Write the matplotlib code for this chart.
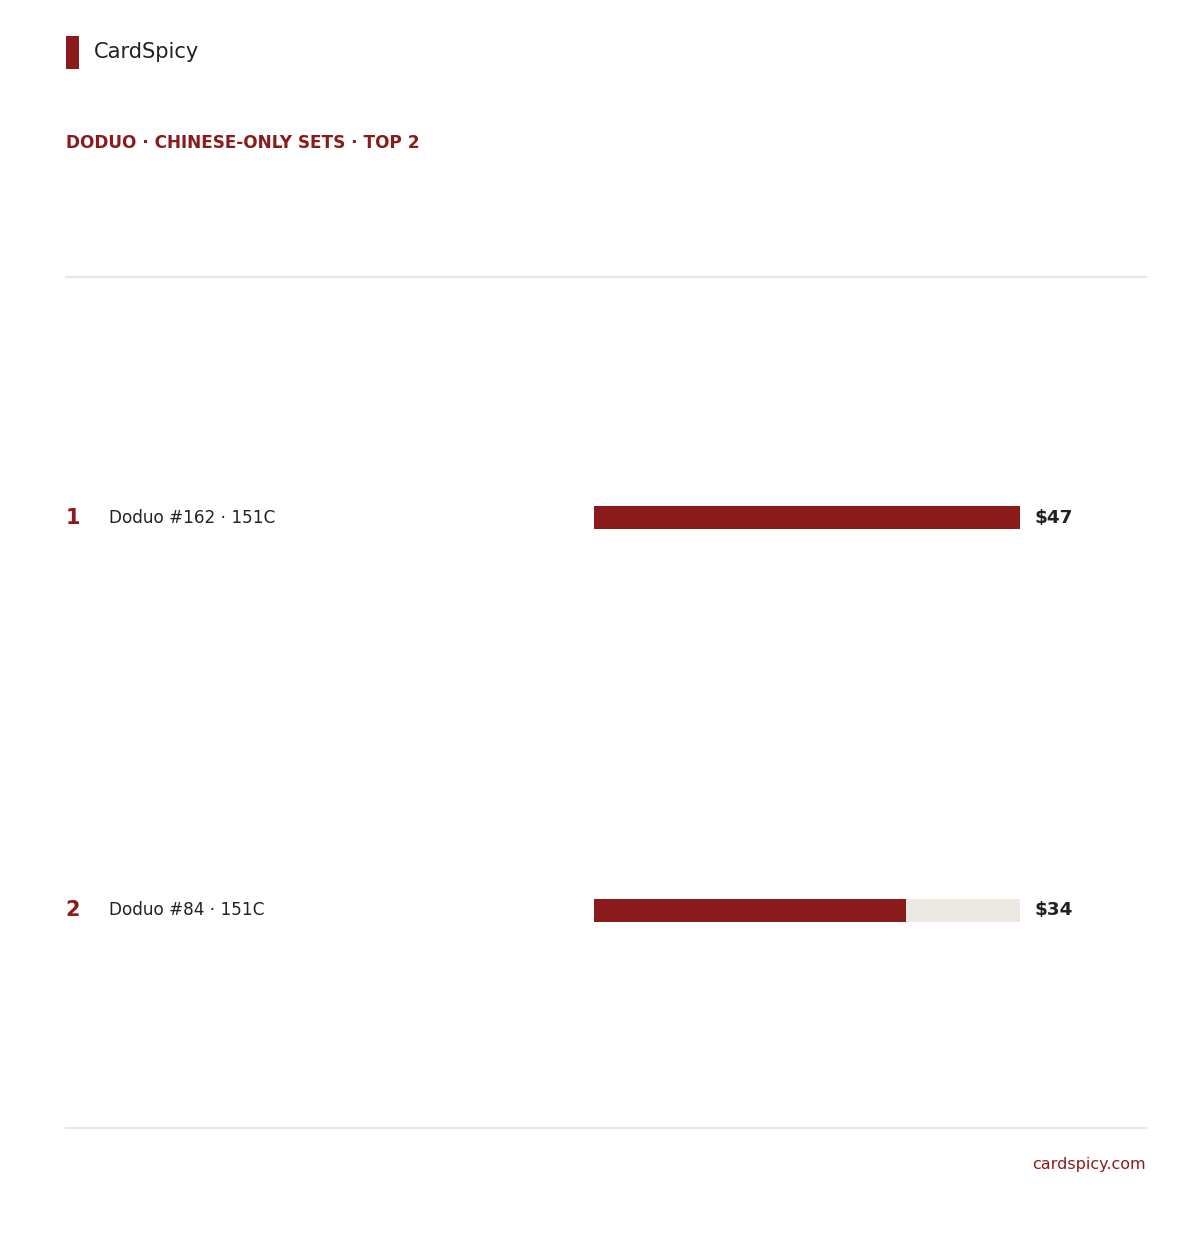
import matplotlib
matplotlib.use("Agg")
import matplotlib.pyplot as plt
from matplotlib.patches import Rectangle
from matplotlib.transforms import blended_transform_factory

plt.rcParams["font.family"] = ["DejaVu Sans"]

# ---- data ----
ranks = ["1", "2"]
labels = ["Doduo #162 · 151C", "Doduo #84 · 151C"]
values = [47, 34.4]
value_labels = ["$47", "$34"]
brand = "CardSpicy"
title = "DODUO · CHINESE-ONLY SETS · TOP 2"
footer = "cardspicy.com"

RED = "#8B1A1A"
DARK = "#222222"
TRACK = "#ECE9E2"
RULE = "#E8E6E3"

W, H = 1200, 1250
fig = plt.figure(figsize=(W / 100, H / 100), dpi=100)
fig.patch.set_facecolor("white")

def fx(px):
    return px / W

def fy(py):
    return 1 - py / H

# header
fig.patches.append(Rectangle((fx(66), fy(69)), fx(79) - fx(66), fy(36) - fy(69),
                             transform=fig.transFigure, color=RED, lw=0))
fig.text(fx(94), fy(52), brand, fontsize=15.1, color=DARK, va="center", ha="left")
fig.text(fx(66), fy(143), title, fontsize=12.15, color=RED, fontweight="bold",
         va="center", ha="left")

# rules
for y in (277, 1128):
    fig.add_artist(plt.Line2D([fx(66), fx(1146)], [fy(y), fy(y)],
                              transform=fig.transFigure, color=RULE, lw=1.5))

# bar axes
y_top_px, y_bot_px = 277, 1128
ax = fig.add_axes([fx(594), fy(y_bot_px), fx(1020) - fx(594), fy(y_top_px) - fy(y_bot_px)])
row0, row1 = 517.8, 910.2
unit = row1 - row0
ax.set_ylim(1 + (y_bot_px - row1) / unit, -(row0 - y_top_px) / unit)
vmax = max(values)
ax.set_xlim(0, vmax)
ax.axis("off")

pos = list(range(len(values)))
bh = 23 / unit
ax.barh(pos, [vmax] * len(values), height=bh, color=TRACK, lw=0)
ax.barh(pos, values, height=bh, color=RED, lw=0)

tr = blended_transform_factory(fig.transFigure, ax.transData)
for i, (r, lab, vl) in enumerate(zip(ranks, labels, value_labels)):
    ax.text(fx(65.5), i, r, transform=tr, fontsize=15, fontweight="bold", color=RED,
            va="center", ha="left", clip_on=False)
    ax.text(fx(109), i, lab, transform=tr, fontsize=12.2, color=DARK,
            va="center", ha="left", clip_on=False)
    ax.text(fx(1034.5), i, vl, transform=tr, fontsize=13.2, fontweight="bold", color=DARK,
            va="center", ha="left", clip_on=False)

fig.text(fx(1146), fy(1164), footer, fontsize=11.5, color=RED, va="center", ha="right")

fig.savefig("out.png", dpi=100, facecolor="white")
